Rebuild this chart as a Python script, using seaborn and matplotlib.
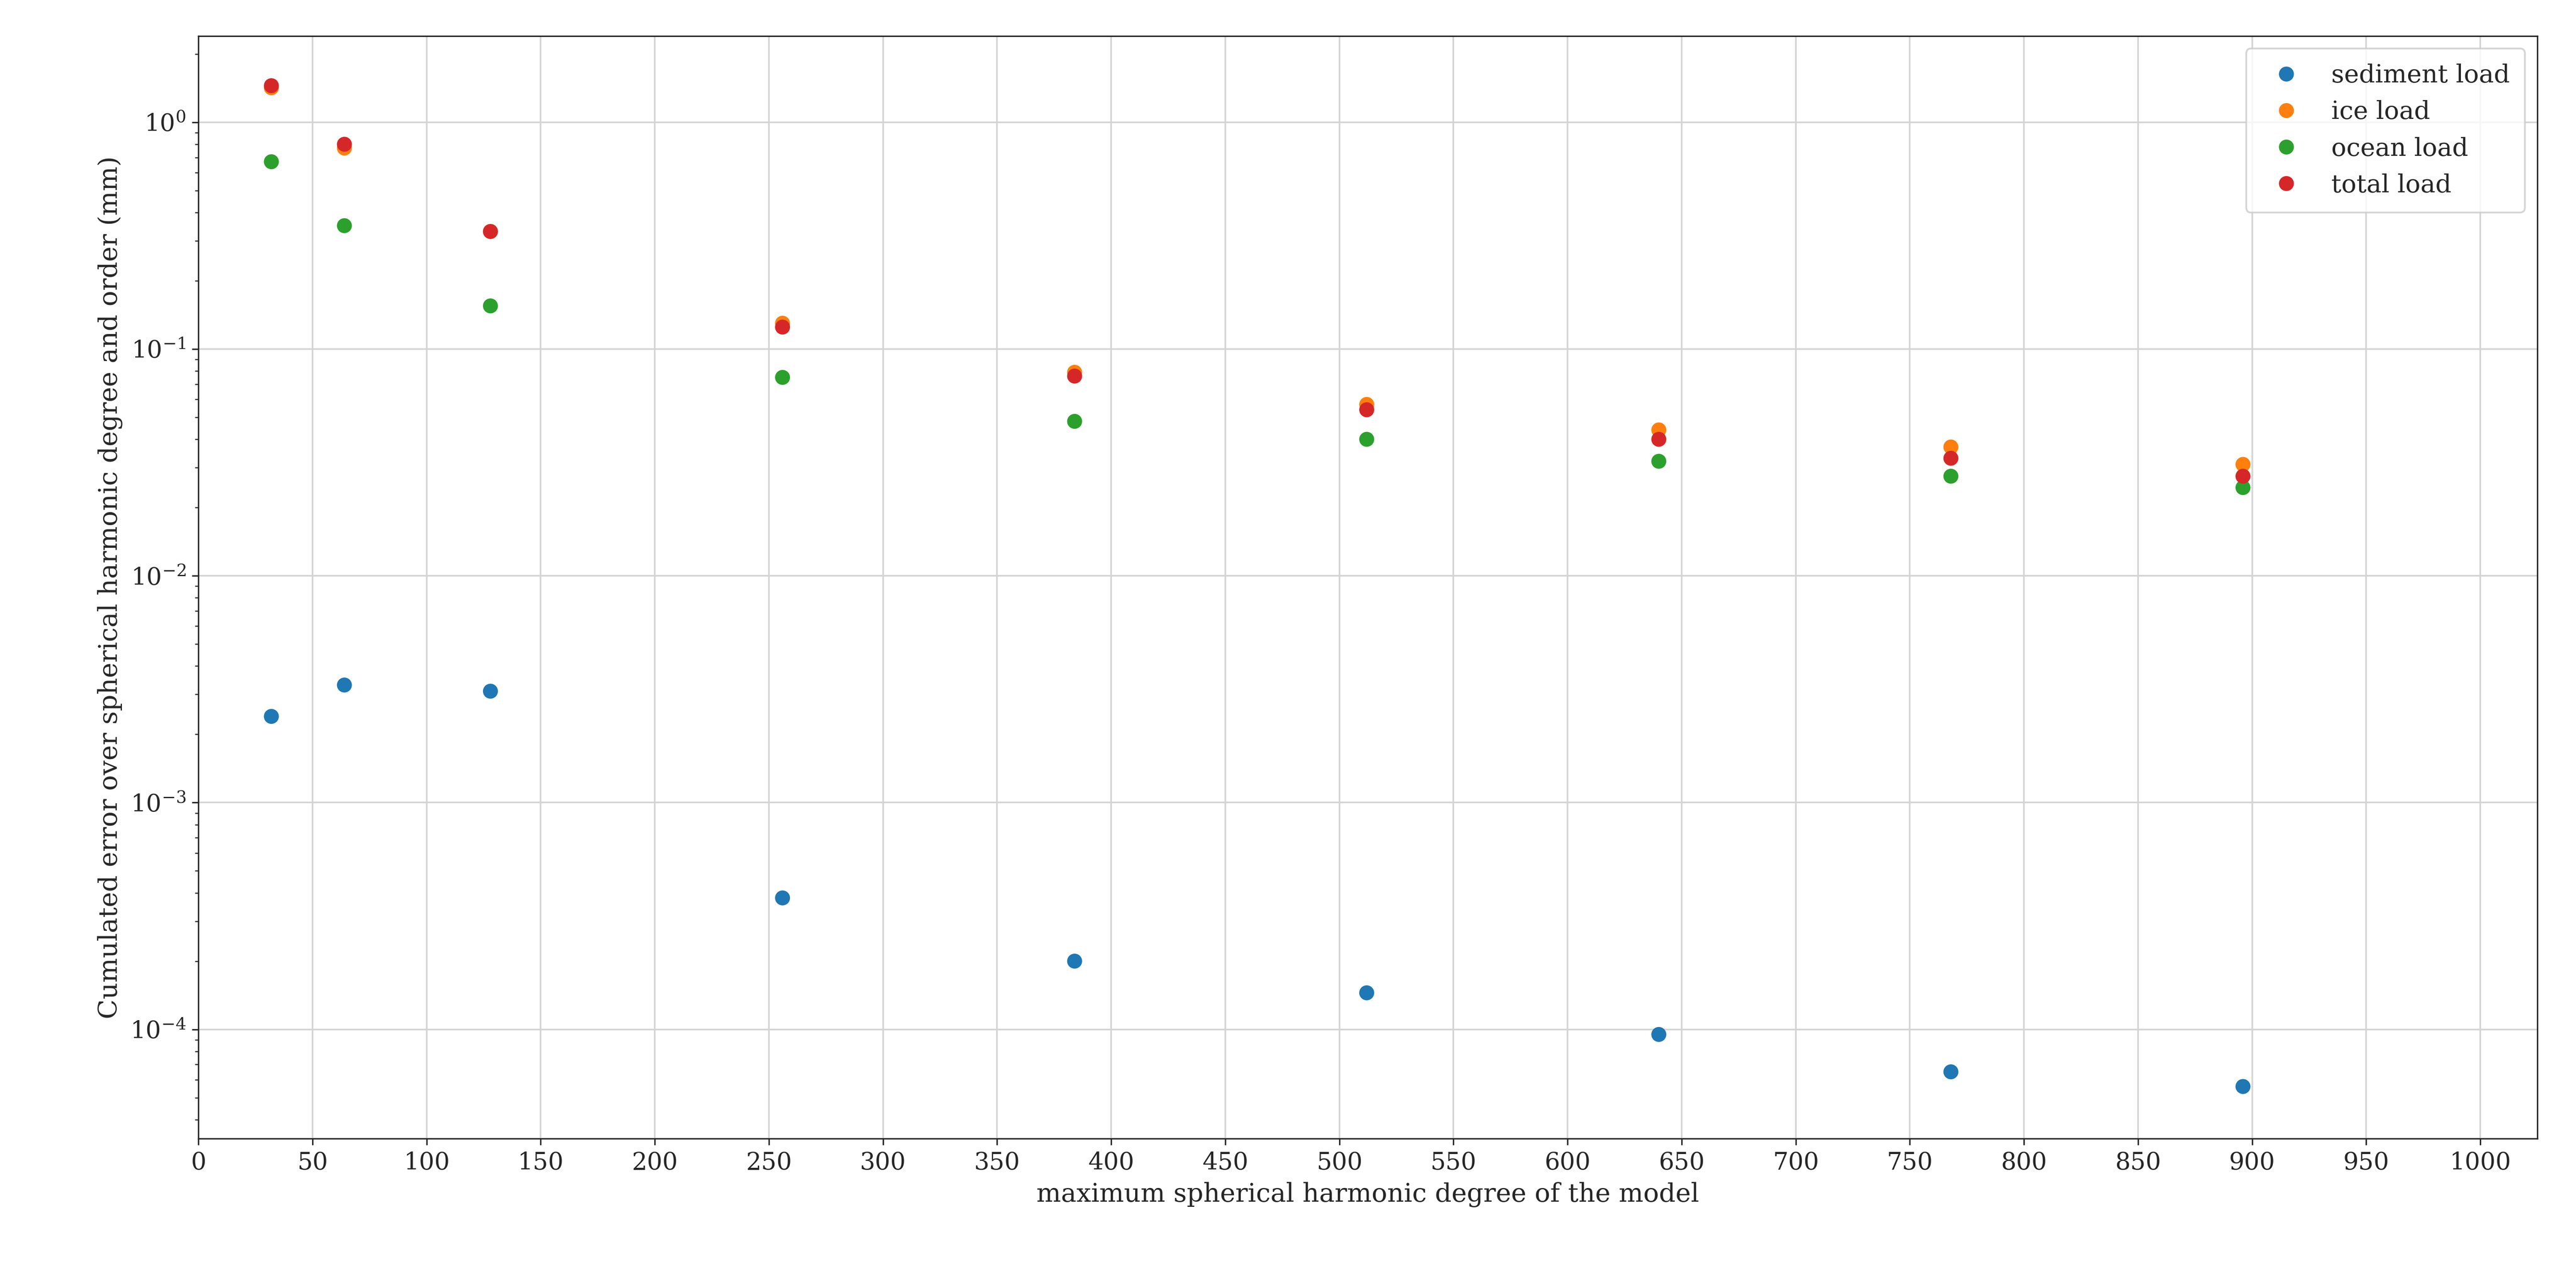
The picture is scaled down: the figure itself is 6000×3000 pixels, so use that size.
import matplotlib
matplotlib.use("Agg")
import matplotlib.pyplot as plt
import seaborn as sns
import pandas as pd

degrees = [32, 64, 128, 256, 384, 512, 640, 768, 896]
sediment = [2.4e-3, 3.3e-3, 3.1e-3, 3.8e-4, 2.0e-4, 1.45e-4, 9.5e-5, 6.5e-5, 5.6e-5]
ice = [1.42, 0.77, 0.33, 0.13, 0.079, 0.057, 0.044, 0.037, 0.031]
ocean = [0.67, 0.35, 0.155, 0.075, 0.048, 0.040, 0.032, 0.0275, 0.0245]
total = [1.45, 0.80, 0.33, 0.125, 0.076, 0.054, 0.040, 0.033, 0.0275]
labels = ["sediment load", "ice load", "ocean load", "total load"]

rows = []
for lab, vals in zip(labels, [sediment, ice, ocean, total]):
    for d, v in zip(degrees, vals):
        rows.append({"degree": d, "error": v, "load": lab})
df = pd.DataFrame(rows)

sns.set_style("ticks")
plt.rcParams["font.family"] = ["DejaVu Serif"]
plt.rcParams["mathtext.fontset"] = "dejavuserif"

fig = plt.figure(figsize=(20, 10), dpi=300)
ax = fig.add_axes([0.077, 0.116, 0.908, 0.856])
sns.scatterplot(data=df, x="degree", y="error", hue="load", palette="tab10",
                s=70, edgecolor="none", ax=ax, zorder=3)
ax.set_yscale("log")
ax.set_xlim(0, 1025)
ax.set_ylim(3.3e-5, 2.4)
ax.set_xticks(range(0, 1001, 50))
ax.grid(True, color="#d4d4d4", linewidth=0.9)
ax.set_axisbelow(True)
ax.tick_params(labelsize=13.5)
ax.set_xlabel("maximum spherical harmonic degree of the model", fontsize=14.5)
ax.set_ylabel("Cumulated error over spherical harmonic degree and order (mm)", fontsize=14.5, labelpad=4)
ax.legend(title=None, loc="upper right", fontsize=14, borderpad=0.6, labelspacing=0.5,
          borderaxespad=0.5, framealpha=0.8)
fig.savefig("out.png", dpi=300)
